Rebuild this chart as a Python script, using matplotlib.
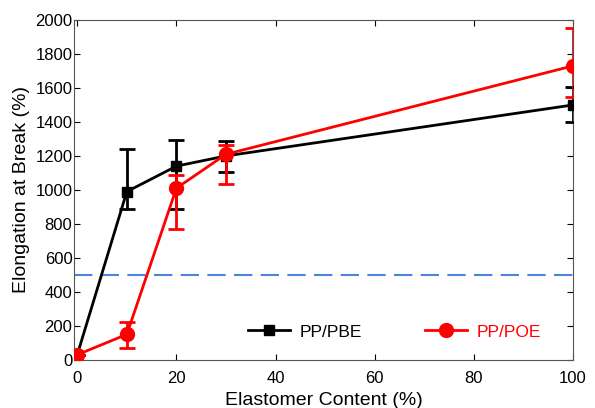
import matplotlib
matplotlib.use("Agg")
import matplotlib.pyplot as plt
from matplotlib.lines import Line2D

plt.rcParams['font.family'] = ['Liberation Sans', 'DejaVu Sans']

# elastomer content (%)
content = [0, 10, 20, 30, 100]

# PP/PBE
pbe = [30, 990, 1140, 1200, 1500]
pbe_lo = [0, 100, 255, 95, 100]
pbe_hi = [0, 250, 155, 85, 108]

# PP/POE
poe = [30, 150, 1010, 1210, 1730]
poe_lo = [0, 82, 240, 175, 185]
poe_hi = [0, 75, 78, 55, 220]

threshold = 500

fig = plt.figure(figsize=(5.95, 4.08), dpi=100)
ax = fig.add_axes([0.124, 0.118, 0.839, 0.833])

ax.axhline(threshold, color='#4a86e0', lw=1.5, ls=(0, (8.8, 4)), zorder=1)

ax.errorbar(content, pbe, yerr=[pbe_lo, pbe_hi], color='black', marker='s',
            ms=7.5, lw=2, elinewidth=2, capsize=6, capthick=2, zorder=3)
ax.errorbar(content, poe, yerr=[poe_lo, poe_hi], color='red', marker='o',
            ms=10, lw=2, elinewidth=2, capsize=6, capthick=2, zorder=4)

handles = [Line2D([], [], color='black', marker='s', ms=6.5, lw=2),
           Line2D([], [], color='red', marker='o', ms=10, lw=2)]
leg = ax.legend(handles, ['PP/PBE', 'PP/POE'], ncol=2, frameon=False,
                loc='center left', bbox_to_anchor=(0.349, 0.082), fontsize=12.5,
                borderpad=0, borderaxespad=0,
                columnspacing=3.6, handlelength=2.4, handletextpad=0.6)
leg.get_texts()[1].set_color('red')

ax.set_xlim(-0.7, 100)
ax.set_ylim(0, 2000)
ax.set_xticks(range(0, 101, 20))
ax.set_yticks(range(0, 2001, 200))
ax.tick_params(direction='in', top=True, right=True, labelsize=12, length=4)
ax.tick_params(axis='x', pad=8)
ax.tick_params(axis='y', pad=1)
for s in ax.spines.values():
    s.set_color('#555555')
ax.set_xlabel('Elastomer Content (%)', fontsize=14, labelpad=4)
ax.set_ylabel('Elongation at Break (%)', fontsize=14, labelpad=4)

fig.savefig('out.png', dpi=100)
